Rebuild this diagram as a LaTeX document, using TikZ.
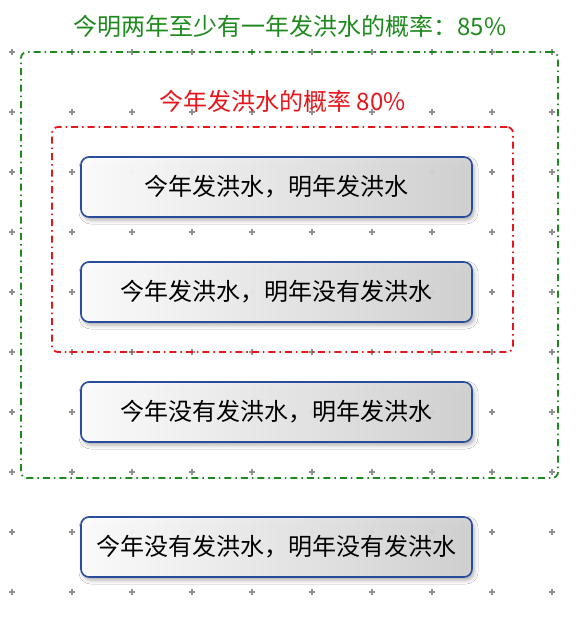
\documentclass[tikz,border=0pt]{standalone}
\usepackage{fontspec}
\setmainfont{Noto Sans CJK SC}
\usetikzlibrary{shadows.blur}
\definecolor{grn}{HTML}{1E8A1E}
\definecolor{rd}{HTML}{E8151B}
\definecolor{bx}{HTML}{2A4C9E}
\definecolor{plusc}{HTML}{909090}
\definecolor{shadc}{HTML}{D2D2D2}
\tikzset{
  plusmark/.style={draw=plusc, line width=1.4pt},
  flowbox/.style={rectangle, rounded corners=8pt, draw=bx, line width=1.6pt,
    left color=white, right color=shadc, fill opacity=0.95, text opacity=1,
    minimum width=391pt, minimum height=60pt, inner sep=0pt,
    font=\fontsize{24}{28}\selectfont, text=black,
    blur shadow={shadow xshift=2pt, shadow yshift=-3pt, shadow blur radius=4pt, shadow opacity=35}},
  frame/.style={rectangle, rounded corners=6pt, line width=1.8pt,
    dash pattern=on 7pt off 4pt on 1.5pt off 4pt, inner sep=0pt},
  greenframe/.style={frame, draw=grn},
  redframe/.style={frame, draw=rd},
  ttl/.style={inner sep=0pt, font=\fontsize{24}{28}\selectfont},
}
\begin{document}
\begin{tikzpicture}[x=1pt,y=-1pt]
\useasboundingbox (0,0) rectangle (584,632);
\fill[white] (0,0) rectangle (584,632);
% grid of plus marks
\foreach \i in {0,...,9}{
  \foreach \j in {0,...,9}{
    \draw[plusmark] ({12+60*\i-3.2},{52+60*\j}) -- ({12+60*\i+3.2},{52+60*\j})
                    ({12+60*\i},{52+60*\j-3.2}) -- ({12+60*\i},{52+60*\j+3.2});
  }
}
% frames
\node[greenframe, minimum width=537pt, minimum height=426pt] (gframe) at (289.5,265) {};
\node[redframe, minimum width=461pt, minimum height=225pt] (rframe) at (282.5,239.5) {};
% titles
\node[ttl, text=grn] (gtitle) at (290,26) {今明两年至少有一年发洪水的概率：85\%};
\node[ttl, text=rd] (rtitle) at (282.5,101) {今年发洪水的概率 80\%};
% boxes
\node[flowbox] (b1) at (276.5,187) {今年发洪水，明年发洪水};
\node[flowbox] (b2) at (276.5,292) {今年发洪水，明年没有发洪水};
\node[flowbox] (b3) at (276.5,412) {今年没有发洪水，明年发洪水};
\node[flowbox] (b4) at (276.5,547) {今年没有发洪水，明年没有发洪水};
\end{tikzpicture}
\end{document}
